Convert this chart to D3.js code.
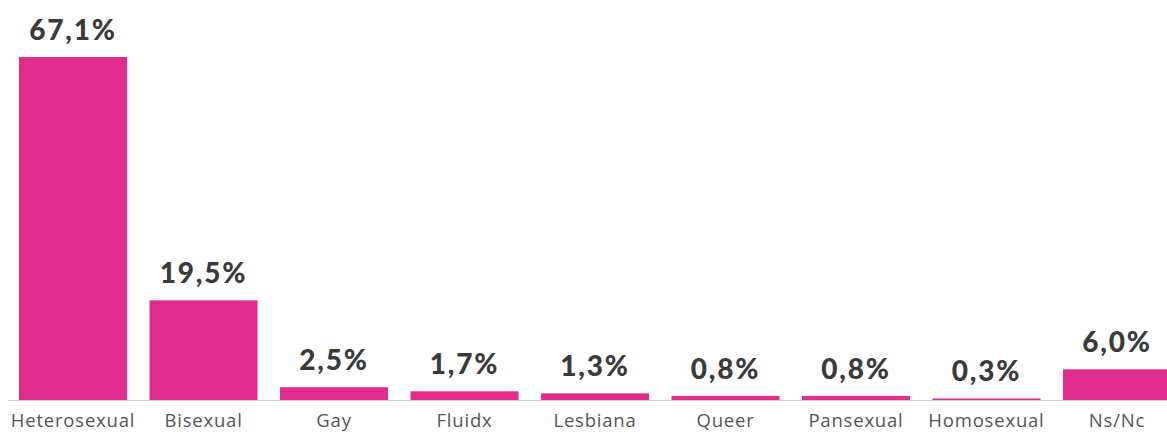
<!DOCTYPE html>
<html>
<head>
<meta charset="utf-8">
<script src="https://cdn.jsdelivr.net/npm/d3@7"></script>
<style>
  body { margin: 0; background: #fff; }
  svg { display: block; }
</style>
</head>
<body>
<svg id="chart" width="1167" height="432"></svg>
<script>
const categories = ['Heterosexual', 'Bisexual', 'Gay', 'Fluidx', 'Lesbiana', 'Queer', 'Pansexual', 'Homosexual', 'Ns/Nc']
const values = [67.1, 19.5, 2.5, 1.7, 1.3, 0.8, 0.8, 0.3, 6.0]
const valueLabels = ['67,1%', '19,5%', '2,5%', '1,7%', '1,3%', '0,8%', '0,8%', '0,3%', '6,0%']

const data = categories.map((c, i) => ({ cat: c, value: values[i], label: valueLabels[i] }))

const svg = d3.select('#chart')
const baseY = 400

const xScale = d3.scaleBand()
  .domain(categories)
  .range([19, 1171])
  .paddingInner(0.172)
  .paddingOuter(0)

const yScale = d3.scaleLinear()
  .domain([0, 67.1])
  .range([baseY, 57])

// baseline
svg.append('line')
  .attr('x1', 8).attr('x2', 1167)
  .attr('y1', baseY + 0.5).attr('y2', baseY + 0.5)
  .attr('stroke', '#cfcfcf')
  .attr('stroke-width', 1)

svg.selectAll('.bar')
  .data(data)
  .enter()
  .append('rect')
  .attr('class', 'bar')
  .attr('x', d => xScale(d.cat))
  .attr('y', d => yScale(d.value))
  .attr('width', xScale.bandwidth())
  .attr('height', d => baseY - yScale(d.value))
  .attr('fill', '#e12d8e')

svg.selectAll('.val')
  .data(data)
  .enter()
  .append('text')
  .attr('class', 'val')
  .attr('x', d => xScale(d.cat) + xScale.bandwidth() / 2)
  .attr('y', d => yScale(d.value) - 17)
  .attr('text-anchor', 'middle')
  .attr('font-family', 'Lato, "Open Sans", sans-serif')
  .attr('font-weight', 900)
  .attr('font-size', 28)
  .attr('letter-spacing', 1.8)
  .attr('fill', '#3a3a3a')
  .text(d => d.label)

// x axis labels
const xAxis = d3.axisBottom(xScale).tickSize(0).tickPadding(0)
const gx = svg.append('g')
  .attr('transform', 'translate(0,' + (baseY + 27) + ')')
  .call(xAxis)
gx.select('.domain').remove()
gx.selectAll('text')
  .attr('dy', 0)
  .attr('font-family', '"Open Sans", sans-serif')
  .attr('font-size', 18.5)
  .attr('letter-spacing', 0.8)
  .attr('fill', '#555')
</script>
</body>
</html>
